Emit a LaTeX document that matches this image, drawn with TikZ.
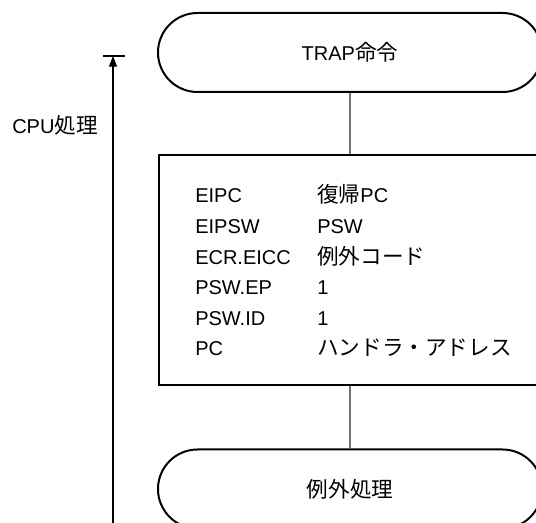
\documentclass[tikz,border=0pt]{standalone}
\usepackage{fontspec}
\setmainfont{Liberation Sans}
\newfontfamily\jp[Scale=1.08]{Noto Sans CJK JP}
\usetikzlibrary{shapes.misc,arrows.meta}
\tikzset{
  term/.style={rounded rectangle, draw, line width=1.5pt, minimum width=384*0.75pt, minimum height=79*0.75pt, inner sep=0pt, font=\fontsize{15}{18}\selectfont},
  procbox/.style={rectangle, draw, line width=1.5pt, minimum width=382*0.75pt, minimum height=230*0.75pt, inner sep=0pt},
  conn/.style={draw=black!55, line width=0.8pt},
  cell/.style={anchor=base west, inner sep=0pt, font=\fontsize{15}{18}\selectfont},
  lbl/.style={inner sep=0pt, font=\fontsize{15}{18}\selectfont},
  timeline/.style={draw, line width=0.8pt}
}
\begin{document}
\begin{tikzpicture}[x=0.75pt,y=-0.75pt]
\useasboundingbox (0,0) rectangle (536,523);
\clip (0,0) rectangle (536,523);
\node[term] (trap) at (350,52.5) {TRAP{\jp 命令}};
\node[procbox] (box) at (350,270) {};
\node[term] (exc) at (350,489) {{\jp 例外処理}};
\draw[conn] (trap.south) -- (box.north);
\draw[conn] (box.south) -- (exc.north);
\node[cell] (a1) at (195,203) {EIPC};
\node[cell] (b1) at (317,203) {{\jp 復帰}PC};
\node[cell] (a2) at (195,233.6) {EIPSW};
\node[cell] (b2) at (317,233.6) {PSW};
\node[cell] (a3) at (195,264.2) {ECR.EICC};
\node[cell] (b3) at (317,264.2) {{\jp 例外コード}};
\node[cell] (a4) at (195,294.8) {PSW.EP};
\node[cell] (b4) at (317,294.8) {1};
\node[cell] (a5) at (195,325.4) {PSW.ID};
\node[cell] (b5) at (317,325.4) {1};
\node[cell] (a6) at (195,356) {PC};
\node[cell] (b6) at (317,356) {{\jp ハンドラ・アドレス}};
\node[lbl] (cpu) at (55,125) {CPU{\jp 処理}};
\coordinate (tbot) at (113,523);
\coordinate (ttop) at (113,56);
\coordinate (barl) at (103,56);
\coordinate (barr) at (125,56);
\draw[timeline, -{Triangle[length=8pt,width=6pt]}] (tbot) -- (ttop);
\draw[timeline] (barl) -- (barr);
\end{tikzpicture}
\end{document}
